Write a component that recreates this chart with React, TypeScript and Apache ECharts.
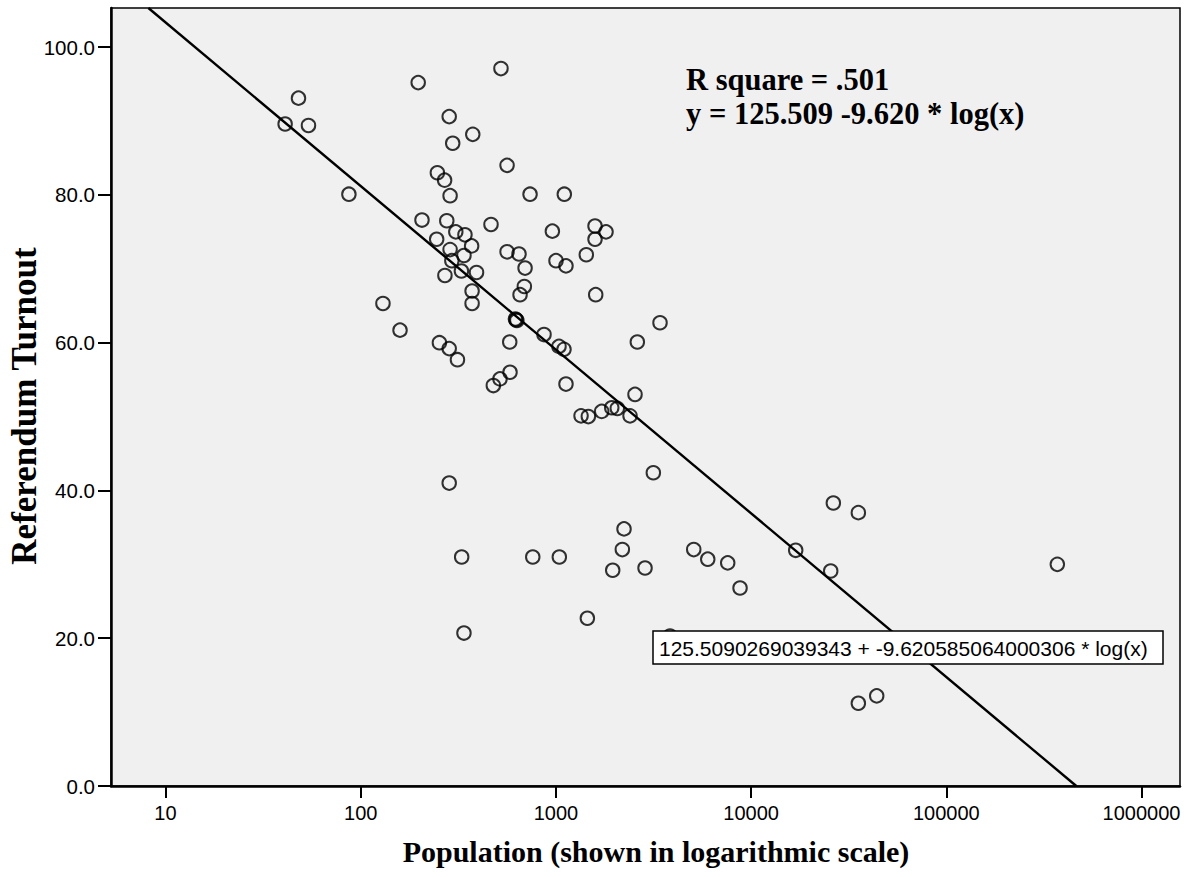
import React, { useEffect, useRef } from "react";
import * as echarts from "echarts";

// Population (log scale) and referendum turnout (%) per municipality
const POPULATION = [
  197, 48, 41, 54, 284, 375, 296, 247, 269, 287, 87, 206, 276, 307, 342, 245, 370, 287, 338, 293,
  328, 270, 392, 372, 372, 130, 159, 253, 284, 313, 284, 523, 562, 737, 1104, 465, 959, 1586, 1806, 1586,
  1431, 562, 647, 695, 1001, 1126, 689, 655, 1599, 620, 625, 631, 3414, 869, 580, 2612, 1037, 1100, 582, 517,
  478, 1126, 2542, 1345, 1466, 1716, 1932, 2063, 2397, 3155, 329, 338, 761, 1041, 2233, 2189, 1954, 2861, 1449, 3842,
  26370, 35420, 5082, 5995, 7587, 8774, 16920, 25570, 370300, 35420, 43990,
];
const TURNOUT = [
  95.2, 93.1, 89.6, 89.4, 90.6, 88.2, 87.0, 83.0, 82.0, 79.9, 80.1, 76.6, 76.5, 75.0, 74.6, 74.0, 73.1, 72.6, 71.8, 71.1,
  69.7, 69.1, 69.5, 67.0, 65.3, 65.3, 61.7, 60.0, 59.2, 57.7, 41.0, 97.1, 84.0, 80.1, 80.1, 76.0, 75.1, 75.8, 75.0, 74.0,
  71.9, 72.3, 72.0, 70.1, 71.1, 70.4, 67.6, 66.5, 66.5, 63.2, 63.1, 63.0, 62.7, 61.1, 60.1, 60.1, 59.5, 59.1, 56.0, 55.1,
  54.2, 54.4, 53.0, 50.1, 50.0, 50.7, 51.2, 51.1, 50.1, 42.4, 31.0, 20.7, 31.0, 31.0, 34.8, 32.0, 29.2, 29.5, 22.7, 20.3,
  38.3, 37.0, 32.0, 30.7, 30.2, 26.8, 31.9, 29.1, 30.0, 11.2, 12.2,
];

const X_TICKS = [10, 100, 1000, 10000, 100000, 1000000];
const Y_TICKS = [0, 20, 40, 60, 80, 100];
const X_MIN = 5.258;
const X_MAX = 1574000;
const Y_MIN = 0;
const Y_MAX = 105.3;

// Logarithmic fit: y = a + b * ln(x)
const INTERCEPT = 125.5090269039343;
const SLOPE = -9.620585064000306;
const FIT_TEXT_LINES = ["R square = .501", "y = 125.509 -9.620 * log(x)"];
const FIT_LABEL = "125.5090269039343 + -9.620585064000306 * log(x)";
const X_TITLE = "Population (shown in logarithmic scale)";
const Y_TITLE = "Referendum Turnout";

export default function App() {
  const ref = useRef<HTMLDivElement>(null);

  useEffect(() => {
    if (!ref.current) return;
    const chart = echarts.init(ref.current, undefined, { renderer: "svg" });

    const scatterData = POPULATION.map((p, i) => [p, TURNOUT[i]]);
    const xStart = Math.exp((INTERCEPT - Y_MAX) / -SLOPE);
    const xEnd = Math.exp((INTERCEPT - Y_MIN) / -SLOPE);
    const fitData = [xStart, xEnd].map((x) => [x, INTERCEPT + SLOPE * Math.log(x)]);

    const option = {
      animation: false,
      backgroundColor: "#ffffff",
      grid: {
        left: 111,
        top: 8,
        width: 1069,
        height: 778,
        show: true,
        backgroundColor: "#f0f0f0",
        borderColor: "#000000",
        borderWidth: 1.5,
      },
      xAxis: {
        type: "log",
        logBase: 10,
        min: X_MIN,
        max: X_MAX,
        axisLine: { show: true, onZero: false, lineStyle: { color: "#000", width: 2.5 } },
        axisTick: { show: true, length: 12, lineStyle: { color: "#000", width: 2 }, customValues: X_TICKS },
        axisLabel: {
          customValues: X_TICKS,
          color: "#000",
          fontFamily: "Liberation Sans",
          fontSize: 20,
          margin: 17,
          formatter: (v: number) => String(Math.round(v)),
        },
        splitLine: { show: false },
        minorTick: { show: false },
      },
      yAxis: {
        type: "value",
        min: Y_MIN,
        max: Y_MAX,
        axisLine: { show: true, onZero: false, lineStyle: { color: "#000", width: 2.5 } },
        axisTick: { show: true, length: 13, lineStyle: { color: "#000", width: 2 }, customValues: Y_TICKS },
        axisLabel: {
          customValues: Y_TICKS,
          color: "#000",
          fontFamily: "Liberation Sans",
          fontSize: 20.5,
          margin: 16,
          formatter: (v: number) => v.toFixed(1),
        },
        splitLine: { show: false },
      },
      series: [
        {
          type: "line",
          data: fitData,
          showSymbol: false,
          symbol: "none",
          clip: true,
          lineStyle: { color: "#000", width: 2.4 },
          z: 3,
        },
        {
          type: "scatter",
          data: scatterData,
          symbol: "circle",
          symbolSize: 13.5,
          itemStyle: { color: "rgba(0,0,0,0)", borderColor: "#000", borderWidth: 2 },
          z: 4,
        },
      ],
      graphic: [
        {
          type: "text",
          x: 686,
          y: 63,
          z: 100,
          style: {
            text: FIT_TEXT_LINES.join("\n"),
            font: "bold 30.5px 'Liberation Serif'",
            lineHeight: 34,
            fill: "#000",
            align: "left",
            verticalAlign: "top",
          },
        },
        {
          type: "rect",
          z: 100,
          shape: { x: 653, y: 631, width: 510, height: 33 },
          style: { fill: "#ffffff", stroke: "#000", lineWidth: 1.5 },
        },
        {
          type: "text",
          x: 659,
          y: 648,
          z: 101,
          style: {
            text: FIT_LABEL,
            font: "21px 'Liberation Sans'",
            fill: "#000",
            align: "left",
            verticalAlign: "middle",
          },
        },
        {
          type: "text",
          x: 656,
          y: 851,
          z: 100,
          style: {
            text: X_TITLE,
            font: "bold 30px 'Liberation Serif'",
            fill: "#000",
            align: "center",
            verticalAlign: "middle",
          },
        },
        {
          type: "text",
          x: 24,
          y: 406,
          rotation: Math.PI / 2,
          z: 100,
          style: {
            text: Y_TITLE,
            font: "bold 35px 'Liberation Serif'",
            fill: "#000",
            align: "center",
            verticalAlign: "middle",
          },
        },
      ],
    };

    chart.setOption(option as any);
    return () => chart.dispose();
  }, []);

  return (
    <div
      ref={ref}
      style={{ position: "fixed", left: 0, top: 0, width: 1194, height: 877, background: "#fff" }}
    />
  );
}
